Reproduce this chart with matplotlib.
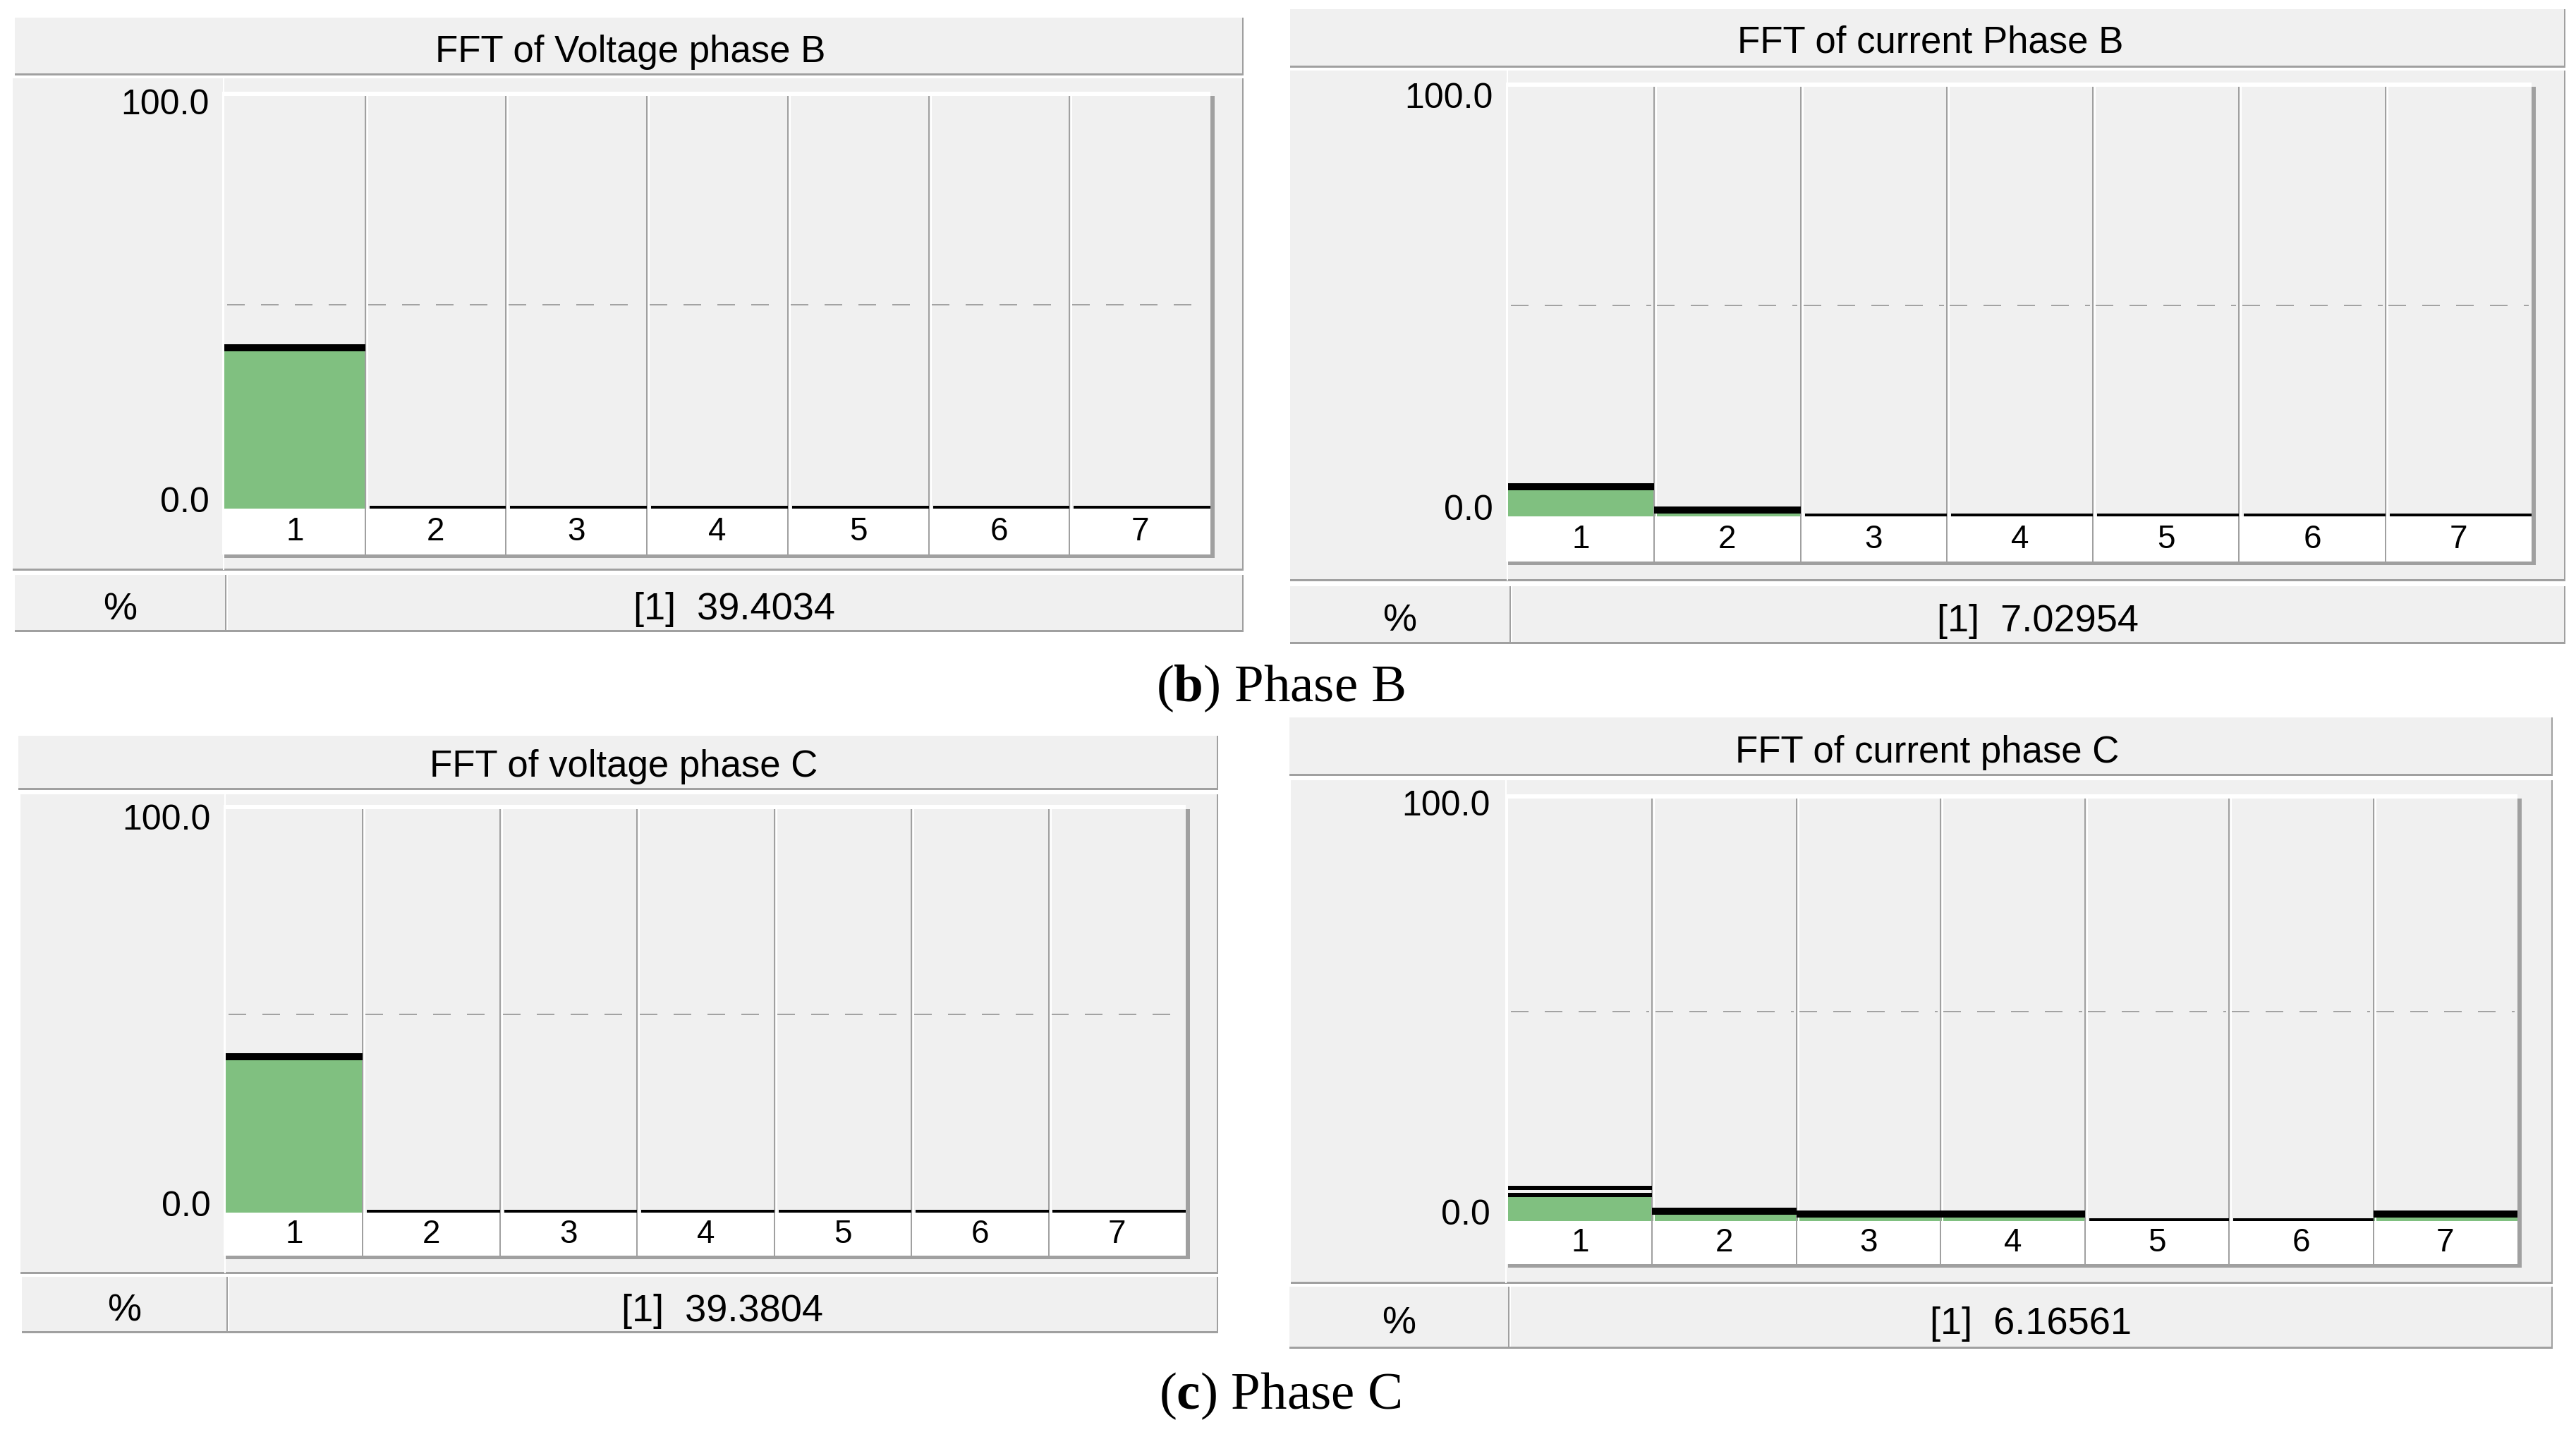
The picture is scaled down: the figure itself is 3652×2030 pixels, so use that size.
import matplotlib
matplotlib.use("Agg")
import matplotlib.pyplot as plt
from matplotlib.patches import Rectangle
import matplotlib.transforms as mtransforms
import numpy as np

plt.rcParams['font.family'] = ['Liberation Sans', 'DejaVu Sans']
plt.rcParams['mathtext.fontset'] = 'custom'
plt.rcParams['mathtext.rm'] = 'Liberation Serif'
plt.rcParams['mathtext.bf'] = 'Liberation Serif:bold'

# ---------------- data ----------------
harmonics = [1, 2, 3, 4, 5, 6, 7]
voltage_B = [39.4034, 0, 0, 0, 0, 0, 0]
current_B = [7.02954, 1.5, 0, 0, 0, 0, 0]
voltage_C = [39.3804, 0, 0, 0, 0, 0, 0]
current_C = [6.16561, 2.4, 1.6, 1.6, 0, 0, 1.6]
current_C_peak = [7.9, None, None, None, None, None, None]
no_peak = [None] * 7
titles = ["FFT of Voltage phase B", "FFT of current Phase B",
          "FFT of voltage phase C", "FFT of current phase C"]
unit_label = "%"
y_ticks = [0.0, 100.0]
ref_line = 50.0
captions = [("b", "Phase B"), ("c", "Phase C")]

# ---------------- layout (pixels) ----------------
W, H = 3652, 2031
DPI = 100
PT = 72.0 / DPI  # points per pixel

layouts = [
    dict(title_bar=(21, 26, 1763, 107), body=(18, 112, 1763, 809), ycol=316,
         plot=(318, 137, 1716, 787), zero=722, y100=144,
         row=(21, 816, 1763, 896), pct=319, tc=(894, 69), lab=297),
    dict(title_bar=(1829, 14, 3637, 96), body=(1829, 101, 3637, 824), ycol=2136,
         plot=(2138, 124, 3589, 797), zero=733, y100=135,
         row=(1829, 832, 3637, 913), pct=2140, tc=(2737, 56), lab=2117),
    dict(title_bar=(26, 1044, 1727, 1120), body=(29, 1127, 1727, 1806), ycol=318,
         plot=(320, 1148, 1681, 1781), zero=1720, y100=1158,
         row=(31, 1811, 1727, 1890), pct=321, tc=(884, 1082), lab=299),
    dict(title_bar=(1828, 1018, 3619, 1100), body=(1830, 1107, 3619, 1820), ycol=2134,
         plot=(2138, 1133, 3569, 1793), zero=1732, y100=1138,
         row=(1828, 1825, 3619, 1912), pct=2138, tc=(2732, 1062), lab=2113),
]
series = [(voltage_B, no_peak), (current_B, no_peak),
          (voltage_C, no_peak), (current_C, current_C_peak)]
caption_pos = [(1815, 976), (1815, 1979)]

BG = '#f0f0f0'
GRAY = '#a0a0a0'
GREEN = '#80c080'
CAP = 0.716  # cap height / em for the sans font

fig = plt.figure(figsize=(W / DPI, H / DPI), dpi=DPI)
fig.patch.set_facecolor('white')
bg = fig.add_axes([0, 0, 1, 1])
bg.set_xlim(0, W)
bg.set_ylim(H, 0)
bg.axis('off')


def rect(x0, y0, x1, y1, c):
    bg.add_patch(Rectangle((x0, y0), x1 - x0, y1 - y0, facecolor=c,
                           edgecolor='none', lw=0))


def half_cap(fs):
    return fs / PT * CAP / 2.0


TITLE_FS, ROW_FS, TICK_FS, BAR_FS = 38, 39, 36, 33

for i, (L, (vals, peaks)) in enumerate(zip(layouts, series)):
    # title bar
    x0, y0, x1, y1 = L['title_bar']
    rect(x0, y0, x1, y1, BG)
    rect(x0, y1 - 2, x1, y1 + 1, GRAY)
    rect(x1 - 2, y0, x1, y1, GRAY)
    bg.text(L['tc'][0], L['tc'][1] + half_cap(TITLE_FS), titles[i],
            ha='center', va='baseline', fontsize=TITLE_FS)
    # body
    x0, y0, x1, y1 = L['body']
    rect(x0, y0, x1, y1, BG)
    rect(x0, y1 - 2, x1, y1 + 1, GRAY)
    rect(x1 - 2, y0, x1, y1, GRAY)
    rect(L['ycol'], y0, L['ycol'] + 2, y1, 'white')
    pl, pt, pr, sb = L['plot']
    rect(pl - 3, pt - 6, pr, pt, 'white')
    rect(pl - 3, pt - 6, pl, sb, 'white')
    rect(pr, pt, pr + 6, sb + 5, GRAY)
    rect(pl, sb, pr + 6, sb + 5, GRAY)
    # readout row
    x0, y0, x1, y1 = L['row']
    rect(x0, y0, L['pct'], y1, BG)
    rect(L['pct'] + 4, y0, x1, y1, BG)
    rect(L['pct'], y0, L['pct'] + 2, y1, GRAY)
    rect(x0, y1 - 2, x1, y1 + 1, GRAY)
    rect(x1 - 2, y0, x1, y1, GRAY)
    yb = (y0 + y1) / 2 + half_cap(ROW_FS) + 3
    bg.text((x0 + L['pct']) / 2, yb, unit_label, ha='center',
            va='baseline', fontsize=ROW_FS)
    bg.text((L['pct'] + x1) / 2, yb, f"[1]  {vals[0]:g}",
            ha='center', va='baseline', fontsize=ROW_FS)

    # data axes
    u = 100.0 / (L['zero'] - L['y100'])
    ymin = -(sb - L['zero']) * u
    ymax = (L['zero'] - pt) * u
    ax = fig.add_axes([pl / W, 1 - sb / H, (pr - pl) / W, (sb - pt) / H])
    ax.set_facecolor(BG)
    ax.set_xlim(0.5, 7.5)
    ax.set_ylim(ymin, ymax)
    for s in ax.spines.values():
        s.set_visible(False)
    ax.set_xticks([])
    ax.set_yticks([])

    ax.axhspan(ymin, 0, color='white', zorder=0.5, lw=0)
    dash_lw = 1.6 * PT
    ax.hlines([ref_line] * 7, np.array(harmonics) - 0.48,
              np.array(harmonics) + 0.48, colors='#909090',
              lw=dash_lw, linestyles=[(0, (25 * PT / dash_lw, 23 * PT / dash_lw))],
              zorder=0.8)
    ax.bar(harmonics, vals, width=1.0, color=GREEN, zorder=1, lw=0)

    up2 = mtransforms.offset_copy(ax.transData, fig=fig, y=2, units='dots')
    for h, v, pk in zip(harmonics, vals, peaks):
        if v > 0:
            thick = 6 if pk is not None else 10
            ax.hlines(v, h - 0.5, h + 0.5, colors='black', lw=thick * PT,
                      capstyle='butt', zorder=3)
        else:
            ax.hlines(v, h - 0.47, h + 0.5, colors='black', lw=4 * PT,
                      capstyle='butt', zorder=3, transform=up2)
        if pk is not None:
            ax.hlines(pk, h - 0.5, h + 0.5, colors='black', lw=6 * PT,
                      capstyle='butt', zorder=3)

    white_off = mtransforms.offset_copy(ax.transData, fig=fig, x=3, units='dots')
    white_tr = mtransforms.blended_transform_factory(white_off, ax.transAxes)
    div_x = [k + 0.5 for k in harmonics[:-1]]
    ax.vlines(div_x, 0, 1, colors=GRAY, lw=2 * PT, zorder=2,
              transform=ax.get_xaxis_transform())
    ax.vlines(div_x, 0, 1, colors='white', lw=2 * PT, zorder=2,
              transform=white_tr)

    for h in harmonics:
        ax.text(h, ymin / 2, str(h), ha='center', va='center', fontsize=BAR_FS,
                zorder=4)

    lab_tr = mtransforms.blended_transform_factory(ax.transAxes, ax.transData)
    for yv in y_ticks:
        dy = (14 if yv == 0 else 0) - half_cap(TICK_FS)
        tr = lab_tr + mtransforms.ScaledTranslation(-(pl - L['lab']) / DPI,
                                                    dy / DPI, fig.dpi_scale_trans)
        ax.text(0, yv, f"{yv:.1f}", ha='right', va='baseline', fontsize=TICK_FS,
                transform=tr, clip_on=False)

for (letter, name), (cx, cy) in zip(captions, caption_pos):
    fig.text(cx / W, 1 - cy / H, r"($\mathbf{" + letter + r"}$) " + name,
             ha='center', va='center', fontsize=54,
             family=['Liberation Serif', 'DejaVu Serif'])

fig.savefig('out.png', dpi=DPI, facecolor='white')
